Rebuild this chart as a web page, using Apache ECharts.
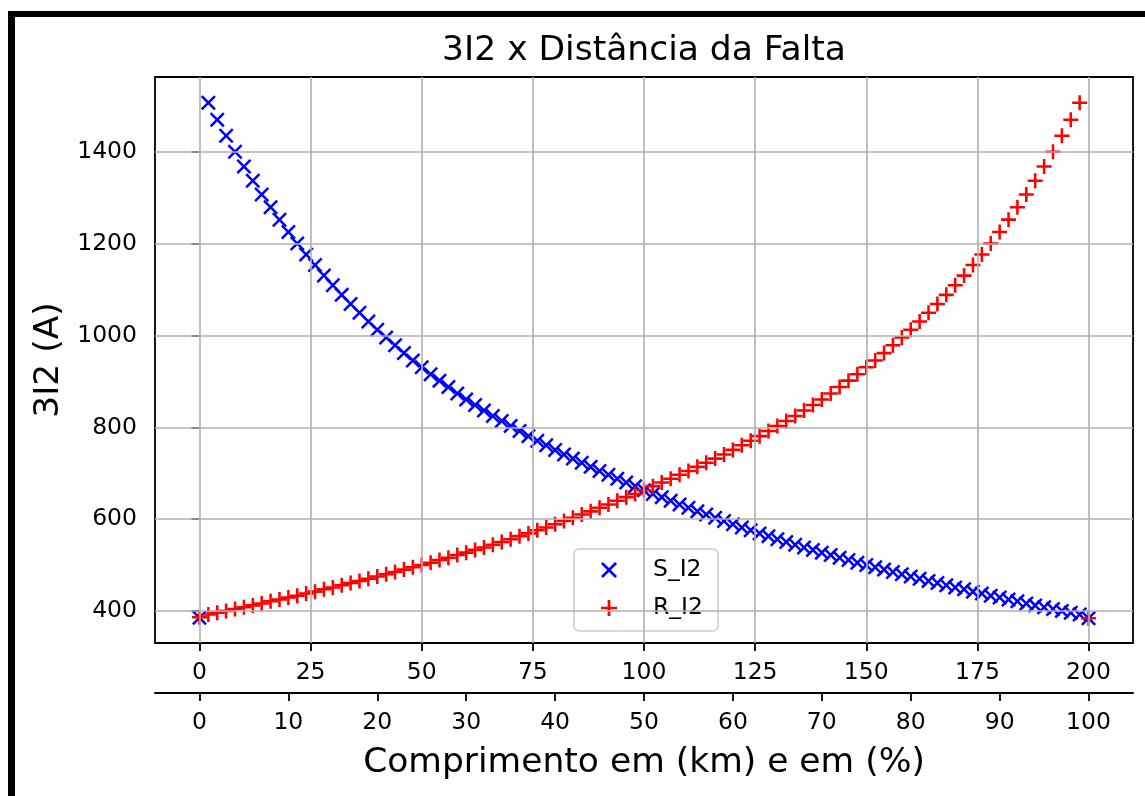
<!DOCTYPE html>
<html><head><meta charset="utf-8">
<script src="https://cdn.jsdelivr.net/npm/echarts@6/dist/echarts.min.js"></script>
<style>html,body{margin:0;padding:0;background:#fff}#c{width:1145px;height:796px}</style>
</head><body><div id="c"></div>
<script>
// Fault distance along the line (km)
const distanceKm = [0,2,4,6,8,10,12,14,16,18,20,22,24,26,28,30,32,34,36,38,40,42,44,46,48,50,52,54,56,58,60,62,64,66,68,70,72,74,76,78,80,82,84,86,88,90,92,94,96,98,100,102,104,106,108,110,112,114,116,118,120,122,124,126,128,130,132,134,136,138,140,142,144,146,148,150,152,154,156,158,160,162,164,166,168,170,172,174,176,178,180,182,184,186,188,190,192,194,196,198,200];
// 3I2 seen at terminal S (A)
const sI2 = [385,
 1508,1471,1436,1401,1369,1338,1308,1280,1253,1226,
 1201,1177,1154,1131,1110,1089,1069,1050,1031,1013,
 996,979,962,946,931,916,902,888,874,861,
 849,837,825,814,803,792,781,771,761,751,
 741,732,723,714,705,697,688,680,672,663,
 655,648,640,632,625,617,610,603,596,589,
 582,576,569,563,556,550,544,538,533,527,
 522,516,511,505,500,495,490,485,480,475,
 470,465,461,456,451,447,442,438,433,429,
 425,421,416,412,408,404,400,396,392,
 384];
// 3I2 seen at terminal R (A)
const rI2 = [386,
 392,396,400,404,408,412,416,421,425,429,
 433,438,442,447,451,456,461,465,470,475,
 480,485,490,495,500,505,511,516,522,527,
 533,538,544,550,556,563,569,576,582,589,
 596,603,610,617,625,632,640,648,655,663,
 672,680,688,697,705,714,723,732,741,751,
 761,771,781,792,803,814,825,837,849,861,
 874,888,902,916,931,946,962,979,996,1013,
 1031,1050,1069,1089,1110,1131,1154,1177,1201,1226,
 1253,1280,1308,1338,1369,1401,1436,1471,1508,
 384];
const kmTicks = [0,25,50,75,100,125,150,175,200];
const pctTicks = [0,10,20,30,40,50,60,70,80,90,100];
const yTicks = [400,600,800,1000,1200,1400];
const seriesNames = ['S_I2','R_I2'];

const X_PATH = 'path://M0,11.8L11.8,0L50,38.2L88.2,0L100,11.8L61.8,50L100,88.2L88.2,100L50,61.8L11.8,100L0,88.2L38.2,50Z';
const PLUS_PATH = 'path://M41.5,0H58.5V41.5H100V58.5H58.5V100H41.5V58.5H0V41.5H41.5Z';
const FONT = 'DejaVu Sans';
const plain = v => String(v);

const chart = echarts.init(document.getElementById('c'), null, {renderer:'canvas'});
const tickStyle = {color:'#000', width:1.8};
chart.setOption({
  animation:false,
  backgroundColor:'#ffffff',
  title:{
    text:'3I2 x Distância da Falta', left:644, top:34, textAlign:'center', padding:0,
    textStyle:{fontSize:34.5, fontWeight:'normal', fontFamily:FONT, color:'#000'}
  },
  grid:{left:155, right:12, top:77, bottom:153, show:true, borderColor:'#000', borderWidth:1.8, backgroundColor:'transparent'},
  legend:{
    orient:'vertical', left:574, top:549, selectedMode:false,
    data:[{name:seriesNames[0], icon:X_PATH, itemStyle:{opacity:1}},{name:seriesNames[1], icon:PLUS_PATH, itemStyle:{opacity:1}}],
    itemWidth:16, itemHeight:16, itemGap:14,
    padding:[9,15,11,27],
    backgroundColor:'rgba(255,255,255,0.8)', borderColor:'#cccccc', borderWidth:1.5, borderRadius:5,
    textStyle:{fontSize:23.5, fontFamily:FONT, color:'#000', lineHeight:24, padding:[0,0,0,31]}
  },
  xAxis:[
    {type:'value', min:-10, max:210, position:'bottom', gridIndex:0,
     axisLine:{show:false},
     axisTick:{show:true, inside:false, length:8, lineStyle:tickStyle, customValues:kmTicks},
     axisLabel:{customValues:kmTicks, formatter:plain, fontSize:23.5, fontFamily:FONT, color:'#000', margin:18},
     splitLine:{show:false}},
    {type:'value', min:-5, max:105, position:'bottom', offset:50, gridIndex:0,
     axisLine:{show:true, onZero:false, lineStyle:{color:'#000', width:1.8}},
     axisTick:{show:true, inside:false, length:8, lineStyle:tickStyle, customValues:pctTicks},
     axisLabel:{customValues:pctTicks, formatter:plain, fontSize:23.5, fontFamily:FONT, color:'#000', margin:18},
     splitLine:{show:false},
     name:'Comprimento em (km) e em (%)', nameLocation:'middle', nameGap:53,
     nameTextStyle:{fontSize:34.5, fontFamily:FONT, color:'#000'}}
  ],
  yAxis:{
    type:'value', min:330, max:1564,
    axisLine:{show:false},
    axisTick:{show:true, inside:false, length:8, lineStyle:tickStyle, customValues:yTicks},
    axisLabel:{customValues:yTicks, formatter:plain, fontSize:23.5, fontFamily:FONT, color:'#000', margin:18},
    splitLine:{show:false},
    name:'3I2 (A)', nameLocation:'middle', nameGap:86,
    nameTextStyle:{fontSize:34.5, fontFamily:FONT, color:'#000'}
  },
  graphic:[
    {type:'rect', silent:true, shape:{x:8, y:11, width:7, height:785}, style:{fill:'#000'}},
    {type:'rect', silent:true, shape:{x:8, y:11, width:1137, height:6}, style:{fill:'#000'}}
  ],
  series:[
    {type:'line', data:[], xAxisIndex:0, yAxisIndex:0, silent:true, z:1,
     markLine:{silent:true, animation:false, symbol:['none','none'], label:{show:false},
       emphasis:{disabled:true},
       lineStyle:{color:'#b0b0b0', width:1.6, type:'solid'},
       data: kmTicks.map(v=>({xAxis:v})).concat(yTicks.map(v=>({yAxis:v})))}},
    {name:seriesNames[0], type:'scatter', xAxisIndex:0, yAxisIndex:0, z:3,
     symbol:X_PATH, symbolSize:15, itemStyle:{color:'#0000ff', opacity:1},
     data: distanceKm.map((x,i)=>[x, sI2[i]])},
    {name:seriesNames[1], type:'scatter', xAxisIndex:0, yAxisIndex:0, z:4,
     symbol:PLUS_PATH, symbolSize:15, itemStyle:{color:'#ff0000', opacity:1},
     data: distanceKm.map((x,i)=>[x, rI2[i]])}
  ]
});
</script></body></html>
